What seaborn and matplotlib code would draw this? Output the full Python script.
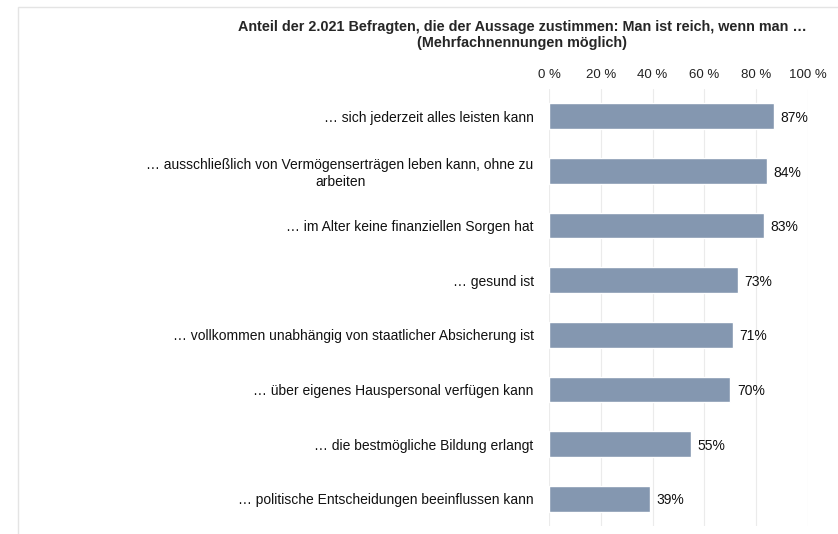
import matplotlib
matplotlib.use("Agg")
import matplotlib.pyplot as plt
import seaborn as sns
import pandas as pd
from matplotlib.patches import Rectangle

statements = [
    "… sich jederzeit alles leisten kann",
    "… ausschließlich von Vermögenserträgen leben kann, ohne zu\narbeiten",
    "… im Alter keine finanziellen Sorgen hat",
    "… gesund ist",
    "… vollkommen unabhängig von staatlicher Absicherung ist",
    "… über eigenes Hauspersonal verfügen kann",
    "… die bestmögliche Bildung erlangt",
    "… politische Entscheidungen beeinflussen kann",
]
shares = [87, 84, 83, 73, 71, 70, 55, 39]
ticks = [0, 20, 40, 60, 80, 100]
tick_labels = ["0 %", "20 %", "40 %", "60 %", "80 %", "100 %"]
title = ("Anteil der 2.021 Befragten, die der Aussage zustimmen: Man ist reich, wenn man …\n"
         "(Mehrfachnennungen möglich)")

df = pd.DataFrame({"Aussage": statements, "Anteil": shares})

sns.set_style("white")
plt.rcParams["font.family"] = ["Liberation Sans", "DejaVu Sans"]

fig = plt.figure(figsize=(8.38, 5.34), dpi=100)
ax = fig.add_axes([549 / 838, 1 - 526 / 534, (808 - 549) / 838, (526 - 89) / 534])

sns.barplot(data=df, x="Anteil", y="Aussage", color="#8497b0", width=0.47,
            saturation=1, ax=ax, zorder=2)

ax.set_xlim(0, 100)
ax.set_ylim(7.5, -0.5)
ax.set_xticks(ticks)
ax.set_xticklabels(tick_labels, fontsize=9.5, color="#222222")
ax.xaxis.tick_top()
ax.tick_params(axis="x", length=0, pad=6)
ax.tick_params(axis="y", length=0, pad=11)
for lab in ax.get_yticklabels():
    lab.set_fontsize(10)
    lab.set_multialignment("center")
    lab.set_color("#111111")
ax.set_xlabel("")
ax.set_ylabel("")
ax.grid(axis="x", color="#ebebeb", linewidth=0.8, zorder=0)
for s in ax.spines.values():
    s.set_visible(False)

for i, v in enumerate(shares):
    ax.text(v + 2.5, i + 0.03, f"{v}%", va="center", ha="left", fontsize=10, color="#111111")

fig.text(522 / 838, 1 - 35 / 534, title, ha="center", va="center",
         fontsize=10.4, fontweight="bold", linespacing=1.15)

fig.patches.append(Rectangle((18 / 838, -0.01), 1.0, 1 - 7 / 534 + 0.01,
                             transform=fig.transFigure, fill=False,
                             edgecolor="#e4e4e4", linewidth=1.0))

fig.savefig("out.png", dpi=100)
